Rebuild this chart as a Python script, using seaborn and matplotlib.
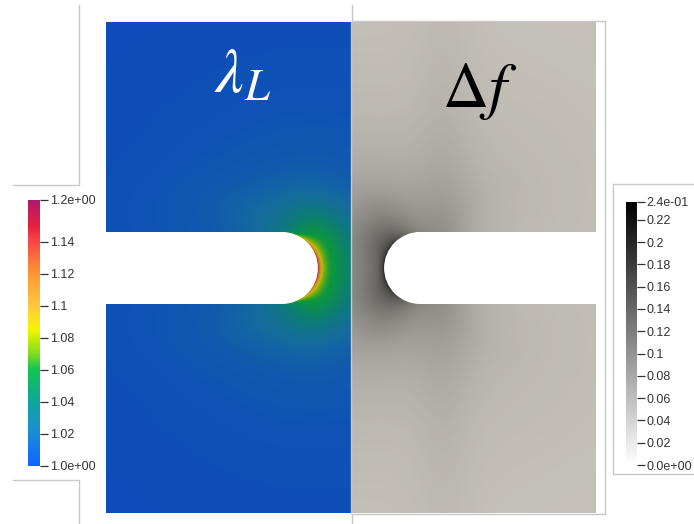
import numpy as np
import matplotlib
matplotlib.use("Agg")
import matplotlib.pyplot as plt
import seaborn as sns
from matplotlib.colors import LinearSegmentedColormap, ListedColormap, Normalize
from matplotlib.cm import ScalarMappable
from matplotlib.patches import Rectangle, Circle
from matplotlib.lines import Line2D

sns.set_theme(style="white")
plt.rcParams['font.family'] = ['Liberation Sans', 'DejaVu Sans']
plt.rcParams['mathtext.fontset'] = 'stix'

# ---- colour scales ---------------------------------------------------------
lam_range = [1.0, 1.166]
lam_stops = [1.0, 1.02, 1.04, 1.06, 1.07, 1.085, 1.10, 1.12, 1.14, 1.15, 1.166]
lam_colors = ['#1064ff', '#1a8cd8', '#0fa59c', '#10c552', '#80dc20', '#f5f500',
              '#ffc840', '#ff9634', '#f84a44', '#e6203c', '#b0186c']
lam_ticks = [1.0, 1.02, 1.04, 1.06, 1.08, 1.10, 1.12, 1.14, 1.166]
lam_labels = ['1.0e+00', '1.02', '1.04', '1.06', '1.08', '1.1', '1.12', '1.14', '1.2e+00']

df_range = [0.0, 0.236]
df_ticks = [0.0, 0.02, 0.04, 0.06, 0.08, 0.10, 0.12, 0.14, 0.16, 0.18, 0.20, 0.22, 0.236]
df_labels = ['0.0e+00', '0.02', '0.04', '0.06', '0.08', '0.1', '0.12', '0.14',
             '0.16', '0.18', '0.2', '0.22', '2.4e-01']

# ---- specimen geometry (plate units, y measured downward) ------------------
plate_h = 2.004
notch_cx = [0.718, 1.282]      # centres of the rounded notch roots
notch_cy = 1.004
notch_r = 0.147

# ---- field parameters: amplitudes and decay lengths ------------------------
lam_amp = [0.089, 0.052, 0.025]   # root crescent, root glow, far halo
lam_len = [0.012, 0.17, 0.40]
df_amp = [0.07, 0.13, 0.03, 0.02]  # root crescent, root lobes, halo, lower band
df_len = [0.012, 0.20, 0.45, 0.9]

LIGHT = np.array([0.775, 0.76, 0.73])  # surface shading of the rendered plate

W_PX, H_PX = 694, 524
PX_PER_UNIT = 245


def notch_coords(X, Y, cx, direction):
    dx = (X - cx) * direction
    dy = Y - notch_cy
    r = np.hypot(dx, dy)
    d = np.where(dx > 0, r - notch_r, np.abs(dy) - notch_r)
    d = np.clip(d, 0, None)
    theta = np.arctan2(dy, dx)
    rt = np.hypot(dx - notch_r, dy)
    return d, theta, rt


def panel_grid(x0):
    xs = x0 + (np.arange(PX_PER_UNIT) + 0.5) / PX_PER_UNIT
    ys = (np.arange(int(round(plate_h * PX_PER_UNIT))) + 0.5) / PX_PER_UNIT
    return np.meshgrid(xs, ys)


# lambda_L on the left half
XL, YL = panel_grid(0.0)
d, th, rt = notch_coords(XL, YL, notch_cx[0], +1)
front = (1 + np.cos(th)) / 2
lam = (lam_range[0]
       + lam_amp[0] * np.exp(-d / lam_len[0]) * np.exp(-(th / 0.9) ** 2)
       + lam_amp[1] * np.exp(-(d / lam_len[1]) ** 2) * front ** 1.2 * (0.8 + 0.2 * np.sin(2 * th) ** 2)
       + lam_amp[2] * np.exp(-rt / lam_len[2]))
lam = np.clip(lam, *lam_range)

# Delta f on the right half
XR, YR = panel_grid(1.0)
d, th, rt = notch_coords(XR, YR, notch_cx[1], -1)
front = (1 + np.cos(th)) / 2
df = (df_amp[0] * np.exp(-d / df_len[0]) * np.exp(-(th / 0.8) ** 2)
      + df_amp[1] * np.exp(-d / df_len[1]) * front * (0.7 + 0.3 * np.sin(2 * th) ** 2)
      + df_amp[2] * np.exp(-rt / df_len[2])
      + df_amp[3] * np.exp(-((XR - 1.38) / 0.12) ** 2) * np.exp(-np.abs(YR - notch_cy) / df_len[3]))
df = np.clip(df, *df_range)

lam_cmap = LinearSegmentedColormap.from_list(
    'lam', list(zip((np.array(lam_stops) - lam_range[0]) / (lam_range[1] - lam_range[0]), lam_colors)))
df_cmap = LinearSegmentedColormap.from_list('df', ['#ffffff', '#000000'])


def shaded(cmap):
    rgb = cmap(np.linspace(0, 1, 256))[:, :3] * LIGHT
    return ListedColormap(rgb)


fig = plt.figure(figsize=(W_PX / 100, H_PX / 100), dpi=100)
fig.patch.set_facecolor('white')


def fig_axes(x0, y0, x1, y1):
    return fig.add_axes([x0 / W_PX, 1 - y1 / H_PX, (x1 - x0) / W_PX, (y1 - y0) / H_PX])


axL = fig_axes(106, 22, 351, 513)
axR = fig_axes(351, 22, 596, 513)

for ax, data, cmap, rng, cx in [(axL, lam, lam_cmap, lam_range, notch_cx[0]),
                                (axR, df, df_cmap, df_range, notch_cx[1])]:
    sns.heatmap(data, ax=ax, cmap=shaded(cmap), vmin=rng[0], vmax=rng[1], cbar=False,
                xticklabels=False, yticklabels=False, rasterized=True)
    ax.set_axis_off()
    x_off = 0.0 if ax is axL else 1.0
    ccx = (cx - x_off) * PX_PER_UNIT
    ccy = notch_cy * PX_PER_UNIT
    rr = notch_r * PX_PER_UNIT
    if ax is axL:
        ax.add_patch(Rectangle((-10, ccy - rr), ccx + 10, 2 * rr, fc='white', ec='none', zorder=5))
    else:
        ax.add_patch(Rectangle((ccx, ccy - rr), 300, 2 * rr, fc='white', ec='none', zorder=5))
    ax.add_patch(Circle((ccx, ccy), rr, fc='white', ec='none', zorder=5))

fig.text(243 / W_PX, 1 - 76 / H_PX, r'$\lambda_L$', color='white', fontsize=46,
         ha='center', va='center')
fig.text(480 / W_PX, 1 - 92 / H_PX, r'$\Delta f$', color='black', fontsize=46,
         ha='center', va='center')

# viewport frame lines
FRAME = '#c8c8c8'


def seg(x0, y0, x1, y1):
    fig.add_artist(Line2D([x0 / W_PX, x1 / W_PX], [1 - y0 / H_PX, 1 - y1 / H_PX],
                          transform=fig.transFigure, color=FRAME, lw=1.0))


seg(78.5, 5, 78.5, 184.5)
seg(13, 184.5, 78.5, 184.5)
seg(13, 479.5, 78.5, 479.5)
seg(78.5, 479.5, 78.5, 524)
seg(352, 5, 352, 20.5)
seg(352, 20.5, 604.5, 20.5)
seg(604.5, 20.5, 604.5, 514)
seg(352, 514, 604.5, 514)
seg(352, 514, 352, 524)
seg(351.5, 22, 351.5, 513)
# legend box of the right scale
seg(612.5, 183.5, 700, 183.5)
seg(612.5, 183.5, 612.5, 473.5)
seg(612.5, 473.5, 700, 473.5)


def colorbar(x0, y0, x1, y1, cmap, rng, ticks, labels):
    cax = fig_axes(x0, y0, x1, y1)
    cb = fig.colorbar(ScalarMappable(Normalize(*rng), cmap), cax=cax, ticks=ticks)
    cb.outline.set_visible(False)
    cax.set_yticklabels(labels)
    cax.tick_params(axis='y', which='major', right=True, left=False, length=5.5,
                    width=0.9, color='#333333', labelsize=9.0, labelcolor='#333333', pad=1.5)
    cax.minorticks_off()
    return cb


colorbar(28, 200, 40, 466, lam_cmap, lam_range, lam_ticks, lam_labels)
colorbar(626, 202, 637, 465, df_cmap, df_range, df_ticks, df_labels)

fig.savefig('out.png', dpi=100)
